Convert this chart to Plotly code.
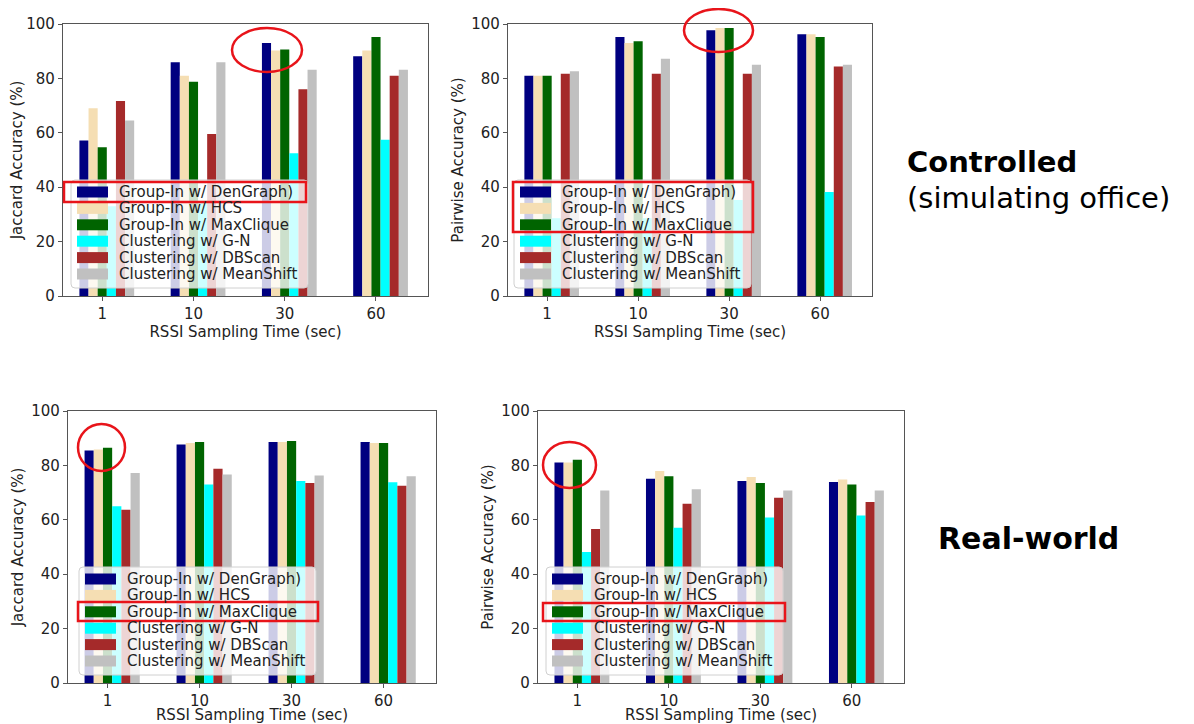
import plotly.graph_objects as go

# ---------------- data ----------------
times = ["1", "10", "30", "60"]
methods = ["Group-In w/ DenGraph)", "Group-In w/ HCS", "Group-In w/ MaxClique",
           "Clustering w/ G-N", "Clustering w/ DBScan", "Clustering w/ MeanShift"]
colors = ["#000080", "#F5DEB3", "#006400", "#00FFFF", "#A52A2A", "#C0C0C0"]

# Controlled - Jaccard
cj_dengraph = [57.2, 85.9, 93.0, 88.1]
cj_hcs = [69.0, 81.0, 90.3, 90.3]
cj_maxclique = [54.7, 78.8, 90.6, 95.2]
cj_gn = [33.0, 35.0, 52.5, 57.4]
cj_dbscan = [71.7, 59.6, 76.0, 81.0]
cj_meanshift = [64.5, 85.9, 83.2, 83.2]

# Controlled - Pairwise
cp_dengraph = [81.0, 95.2, 97.7, 96.2]
cp_hcs = [81.0, 93.0, 98.5, 96.2]
cp_maxclique = [81.0, 93.7, 98.5, 95.2]
cp_gn = [28.6, 28.6, 35.3, 38.2]
cp_dbscan = [81.7, 81.7, 81.7, 84.4]
cp_meanshift = [82.6, 87.2, 85.0, 85.0]

# Real-world - Jaccard
rj_dengraph = [85.5, 87.7, 88.6, 88.6]
rj_hcs = [85.8, 88.2, 88.6, 88.2]
rj_maxclique = [86.5, 88.6, 89.0, 88.2]
rj_gn = [65.0, 73.0, 74.3, 73.8]
rj_dbscan = [63.7, 78.8, 73.5, 72.5]
rj_meanshift = [77.2, 76.7, 76.3, 76.0]

# Real-world - Pairwise
rp_dengraph = [81.1, 75.1, 74.3, 73.9]
rp_hcs = [81.1, 77.9, 75.7, 74.8]
rp_maxclique = [82.1, 76.0, 73.5, 73.0]
rp_gn = [48.2, 57.1, 60.8, 61.6]
rp_dbscan = [56.6, 65.9, 68.1, 66.5]
rp_meanshift = [70.8, 71.2, 70.8, 70.8]

y_ticks = [0, 20, 40, 60, 80, 100]

# ---------------- layout helpers ----------------
PAGE_OFF = 8                 # default body margin of the html page
W, H = 1194 - PAGE_OFF, 724 - PAGE_OFF


def px_x(v):
    return (v - PAGE_OFF) / W


def px_y(v):
    return 1 - (v - PAGE_OFF) / H


panels = [
    dict(series=[cj_dengraph, cj_hcs, cj_maxclique, cj_gn, cj_dbscan, cj_meanshift],
         xd=(63, 428), yd=(24, 296), ytitle="Jaccard Accuracy (%)", leg=(71, 180), so=4),
    dict(series=[cp_dengraph, cp_hcs, cp_maxclique, cp_gn, cp_dbscan, cp_meanshift],
         xd=(508, 872), yd=(24, 296), ytitle="Pairwise Accuracy (%)", leg=(514, 180), so=4),
    dict(series=[rj_dengraph, rj_hcs, rj_maxclique, rj_gn, rj_dbscan, rj_meanshift],
         xd=(68, 436), yd=(411, 683), ytitle="Jaccard Accuracy (%)", leg=(79, 567), so=6),
    dict(series=[rp_dengraph, rp_hcs, rp_maxclique, rp_gn, rp_dbscan, rp_meanshift],
         xd=(538, 904), yd=(411, 683), ytitle="Pairwise Accuracy (%)", leg=(546, 567), so=6),
]

fig = go.Figure()
layout = dict(
    width=W, height=H, autosize=False,
    margin=dict(l=0, r=0, t=0, b=0, pad=0, autoexpand=False),
    paper_bgcolor="white", plot_bgcolor="white",
    barmode="overlay", showlegend=False,
    font=dict(family="DejaVu Sans", size=15, color="#222222"),
)

shapes = []
annotations = []
xpos = list(range(len(times)))
BAR_W = 0.1

for i, p in enumerate(panels):
    n = "" if i == 0 else str(i + 1)
    for k, (vals, name, col) in enumerate(zip(p["series"], methods, colors)):
        fig.add_trace(go.Bar(
            x=xpos, y=vals, name=name, width=BAR_W,
            offset=(k - 2) * BAR_W - BAR_W / 2,
            marker=dict(color=col, line=dict(width=0)),
            xaxis="x" + n, yaxis="y" + n, showlegend=False,
        ))
    axis_common = dict(showline=True, linecolor="#555555", linewidth=1.2, mirror=True,
                       ticks="outside", ticklen=4, tickcolor="#555555",
                       showgrid=False, zeroline=False, automargin=False,
                       tickfont=dict(family="DejaVu Sans", size=15, color="#222222"))
    layout["xaxis" + n] = dict(
        domain=[px_x(p["xd"][0]), px_x(p["xd"][1])], anchor="y" + n,
        range=[-0.43, 3.57], tickvals=xpos, ticktext=times,
        title=dict(text="RSSI Sampling Time (sec)", standoff=p["so"],
                   font=dict(family="DejaVu Sans", size=15, color="#222222")),
        **axis_common)
    layout["yaxis" + n] = dict(
        domain=[px_y(p["yd"][1]), px_y(p["yd"][0])], anchor="x" + n,
        range=[0, 100], tickvals=y_ticks,
        title=dict(text=p["ytitle"], standoff=4,
                   font=dict(family="DejaVu Sans", size=15, color="#222222")),
        **axis_common)

    # legend (drawn inside each panel, lower-left)
    lx, ly = p["leg"]
    lw, lh, r = 237, 108, 4
    x0, x1, y0, y1 = lx, lx + lw, ly, ly + lh
    path = (f"M {px_x(x0 + r)},{px_y(y0)} L {px_x(x1 - r)},{px_y(y0)} "
            f"Q {px_x(x1)},{px_y(y0)} {px_x(x1)},{px_y(y0 + r)} "
            f"L {px_x(x1)},{px_y(y1 - r)} Q {px_x(x1)},{px_y(y1)} {px_x(x1 - r)},{px_y(y1)} "
            f"L {px_x(x0 + r)},{px_y(y1)} Q {px_x(x0)},{px_y(y1)} {px_x(x0)},{px_y(y1 - r)} "
            f"L {px_x(x0)},{px_y(y0 + r)} Q {px_x(x0)},{px_y(y0)} {px_x(x0 + r)},{px_y(y0)} Z")
    shapes.append(dict(type="path", xref="paper", yref="paper", path=path,
                       fillcolor="rgba(255,255,255,0.8)",
                       line=dict(color="#d0d0d0", width=1), layer="above"))
    for k, (name, col) in enumerate(zip(methods, colors)):
        cy = ly + 12 + k * 16.4
        shapes.append(dict(type="rect", xref="paper", yref="paper",
                           x0=px_x(lx + 6), x1=px_x(lx + 37),
                           y0=px_y(cy + 5.5), y1=px_y(cy - 5.5),
                           fillcolor=col, line=dict(width=0), layer="above"))
        annotations.append(dict(text=name, xref="paper", yref="paper",
                                x=px_x(lx + 46), y=px_y(cy), xanchor="left", yanchor="middle",
                                showarrow=False,
                                font=dict(family="DejaVu Sans", size=15, color="#222222")))

# red highlight marks
RED = "#e8141a"
ellipses = [(232, 28, 302, 72), (684, 9, 753, 52), (78, 424, 125, 471), (543, 442, 596, 488)]
boxes = [(64, 182, 306, 202), (513, 182, 753, 232), (78, 602, 318, 621), (543, 603, 785, 621)]
for (a, b, c, d) in ellipses:
    shapes.append(dict(type="circle", xref="paper", yref="paper",
                       x0=px_x(a), x1=px_x(c), y0=px_y(d), y1=px_y(b),
                       line=dict(color=RED, width=2.5), layer="above"))
for (a, b, c, d) in boxes:
    shapes.append(dict(type="rect", xref="paper", yref="paper",
                       x0=px_x(a), x1=px_x(c), y0=px_y(d), y1=px_y(b),
                       line=dict(color=RED, width=2.5), layer="above"))

# side captions
annotations.append(dict(text="<b>Controlled</b>", xref="paper", yref="paper",
                        x=px_x(905), y=px_y(162), xanchor="left", yanchor="middle",
                        showarrow=False, font=dict(family="DejaVu Sans", size=29, color="#000000")))
annotations.append(dict(text="(simulating office)", xref="paper", yref="paper",
                        x=px_x(905), y=px_y(198), xanchor="left", yanchor="middle",
                        showarrow=False, font=dict(family="DejaVu Sans", size=29, color="#000000")))
annotations.append(dict(text="<b>Real-world</b>", xref="paper", yref="paper",
                        x=px_x(936), y=px_y(538), xanchor="left", yanchor="middle",
                        showarrow=False, font=dict(family="DejaVu Sans", size=30, color="#000000")))

layout["shapes"] = shapes
layout["annotations"] = annotations
fig.update_layout(**layout)
fig.write_html("out.html")
